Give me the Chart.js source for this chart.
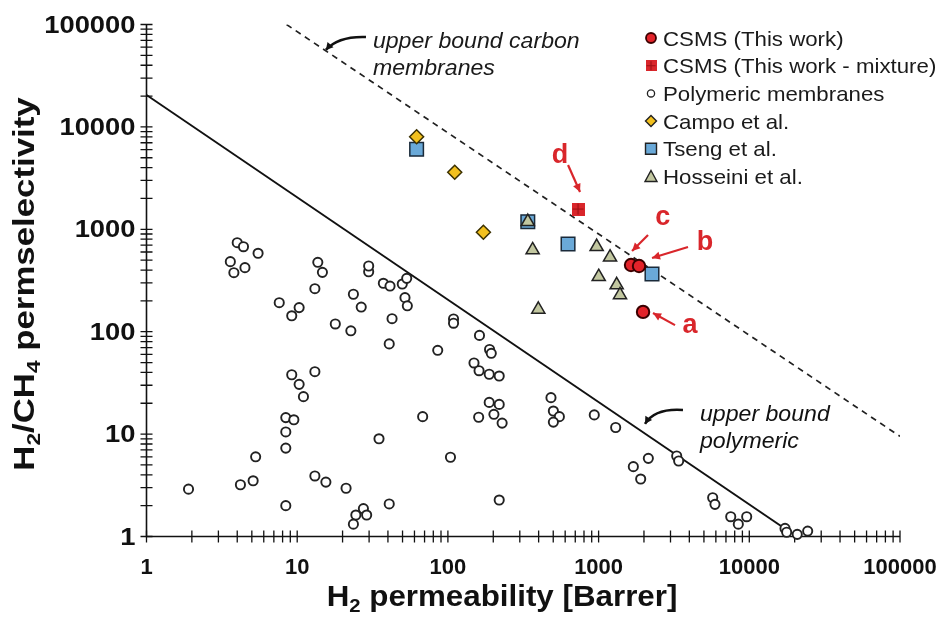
<!DOCTYPE html>
<html>
<head>
<meta charset="utf-8">
<title>H2/CH4 upper bound plot</title>
<script src="https://cdn.jsdelivr.net/npm/chart.js@4.4.0/dist/chart.umd.min.js"></script>
<style>
  html, body { margin: 0; padding: 0; background: #fff; }
  #wrap { width: 942px; height: 625px; position: relative; }
</style>
</head>
<body>
<div id="wrap"><canvas id="chart" width="942" height="625"></canvas></div>
<script>
// axis ticks (log decades) and their labels
const tickValues = [1, 10, 100, 1000, 10000, 100000];
const tickLabels = ['1', '10', '100', '1000', '10000', '100000'];
const minorSteps = [2, 3, 4, 5, 6, 7, 8, 9];

// Polymeric membranes
const polyX = [4.0, 4.4, 5.5, 3.6, 3.8, 4.5, 13.7, 14.7, 13.1, 7.6, 10.3, 9.2, 17.9,
  9.2, 13.1, 10.3, 11.0, 8.4, 9.5, 8.4, 8.4, 5.3, 1.9, 4.2, 5.1, 13.1, 15.5, 8.4,
  29.8, 29.8, 37.3, 41.3, 49.8, 53.3, 23.6, 51.9, 53.8, 26.6, 22.7, 42.6, 40.8,
  109, 109, 162, 189, 194, 85.6, 149, 161, 188, 219, 188, 219, 202, 68, 160,
  34.9, 21.1, 104, 229, 219, 27.5, 24.5, 28.9, 23.6, 40.8,
  483, 501, 549, 501, 936, 1298, 1700, 2138, 1902, 3298, 3399, 5715, 5918,
  7530, 8453, 9610, 17260, 17700, 20800, 24400];
const polyY = [740, 676, 583, 483, 377, 422, 476, 380, 263, 192, 172, 143, 119,
  38, 40.7, 30.6, 23.2, 14.5, 13.8, 10.5, 7.3, 6.0, 2.9, 3.2, 3.5, 3.9, 3.4, 2.0,
  385, 438, 297, 279, 292, 332, 232, 215, 179, 174, 102, 134, 76,
  133, 121, 92, 67, 61.5, 65.8, 49.5, 41.6, 38.4, 36.9, 20.4, 19.5, 15.6, 14.8, 14.6,
  9.0, 2.96, 5.94, 12.8, 2.27, 1.87, 1.62, 1.62, 1.32, 2.08,
  22.7, 16.8, 14.8, 13.1, 15.4, 11.6, 4.81, 5.80, 3.64, 6.11, 5.46, 2.39, 2.06,
  1.56, 1.32, 1.56, 1.20, 1.10, 1.05, 1.13];

// CSMS (this work) and literature carbon membranes
const csmsX = [1641, 1854, 1972];
const csmsY = [448, 438, 156];
const mixX = [730];
const mixY = [1578];
const campoX = [62, 111, 172];
const campoY = [8020, 3604, 935];
const tsengX = [62, 339, 627, 2261];
const tsengY = [6040, 1186, 718, 366];
const hossX = [339, 365, 398, 971, 1191, 1002, 1318, 1387];
const hossY = [1186, 628, 165, 676, 533, 344, 286, 228];

// upper bound lines
const boundPolyX = [1, 16700];
const boundPolyY = [20500, 1.23];
const boundCarbX = [8.5, 100000];
const boundCarbY = [100000, 9.5];

const legendLabels = ['CSMS (This work)', 'CSMS (This work - mixture)', 'Polymeric membranes',
  'Campo et al.', 'Tseng et al.', 'Hosseini et al.'];

// red sample labels a-d, with arrows (data coordinates)
const sampleLabels = ['a', 'b', 'c', 'd'];
const sampleTextX = [4042, 5082, 2663, 555];
const sampleTextY = [97, 628, 1102, 4440];
const sampleFromX = [3214, 3919, 2128, 627];
const sampleFromY = [116, 672, 880, 4246];
const sampleToX = [2296, 2261, 1667, 753];
const sampleToY = [152, 525, 614, 2313];

// upper bound captions with curved arrows (data coordinates)
const boundCaptions = [['upper bound carbon', 'membranes'], ['upper bound', 'polymeric']];
const captionX = [31.8, 4710];
const captionY = [58900, 13.4];
const curveStartX = [28.6, 3631];
const curveStartY = [75500, 17.2];
const curveCtrlX = [18.7, 2367];
const curveCtrlY = [77200, 18.0];
const curveEndX = [15.5, 2032];
const curveEndY = [56400, 12.6];

const FONT = '"Liberation Sans", Arial, sans-serif';
const RED = '#d9262b';

const pts = (xs, ys) => xs.map((x, i) => ({ x: x, y: ys[i] }));

const axisTicks = [];
tickValues.forEach((v, i) => {
  axisTicks.push(v);
  if (i < tickValues.length - 1) minorSteps.forEach(m => axisTicks.push(v * m));
});

function crossSquare(size) {
  const c = document.createElement('canvas');
  c.width = size; c.height = size;
  const g = c.getContext('2d');
  g.fillStyle = RED;
  g.fillRect(0, 0, size, size);
  g.strokeStyle = '#9e1014';
  g.lineWidth = 1.2;
  g.beginPath();
  g.moveTo(size / 2, 1); g.lineTo(size / 2, size - 1);
  g.moveTo(1, size / 2); g.lineTo(size - 1, size / 2);
  g.stroke();
  return c;
}

// text with optional subscripts and horizontal stretch
function drawRich(ctx, parts, x, y, size, font, align, sx) {
  ctx.save();
  ctx.textBaseline = 'alphabetic';
  ctx.textAlign = 'left';
  let w = 0;
  parts.forEach(p => {
    ctx.font = font.replace('SIZE', (p[1] ? size * 0.65 : size) + 'px');
    w += ctx.measureText(p[0]).width;
  });
  w *= sx;
  let left = align === 'center' ? x - w / 2 : align === 'right' ? x - w : x;
  ctx.translate(left, y);
  ctx.scale(sx, 1);
  let cx = 0;
  parts.forEach(p => {
    ctx.font = font.replace('SIZE', (p[1] ? size * 0.65 : size) + 'px');
    ctx.fillText(p[0], cx, p[1] ? size * 0.22 : 0);
    cx += ctx.measureText(p[0]).width;
  });
  ctx.restore();
}

function arrowHead(ctx, fx, fy, tx, ty, len, wid) {
  const a = Math.atan2(ty - fy, tx - fx);
  ctx.beginPath();
  ctx.moveTo(tx, ty);
  ctx.lineTo(tx - len * Math.cos(a) + wid * Math.sin(a), ty - len * Math.sin(a) - wid * Math.cos(a));
  ctx.lineTo(tx - len * Math.cos(a) - wid * Math.sin(a), ty - len * Math.sin(a) + wid * Math.cos(a));
  ctx.closePath();
  ctx.fill();
}

function legendMarker(ctx, i, x, y) {
  ctx.save();
  ctx.lineWidth = 1.4;
  ctx.strokeStyle = '#222';
  ctx.beginPath();
  if (i === 0) {
    ctx.fillStyle = '#e3232a'; ctx.strokeStyle = '#3b0000'; ctx.lineWidth = 1.8;
    ctx.arc(x, y, 5, 0, Math.PI * 2); ctx.fill(); ctx.stroke();
  } else if (i === 1) {
    ctx.drawImage(crossSquare(11), x - 5.5, y - 5.5);
  } else if (i === 2) {
    ctx.fillStyle = '#fff'; ctx.lineWidth = 1.3;
    ctx.arc(x, y, 3.6, 0, Math.PI * 2); ctx.fill(); ctx.stroke();
  } else if (i === 3) {
    ctx.fillStyle = '#f2c01e';
    ctx.moveTo(x, y - 5.5); ctx.lineTo(x + 5.5, y); ctx.lineTo(x, y + 5.5); ctx.lineTo(x - 5.5, y);
    ctx.closePath(); ctx.fill(); ctx.stroke();
  } else if (i === 4) {
    ctx.fillStyle = '#6aa9d8';
    ctx.rect(x - 5.5, y - 5.5, 11, 11); ctx.fill(); ctx.stroke();
  } else {
    ctx.fillStyle = '#c2c7a0';
    ctx.moveTo(x, y - 6); ctx.lineTo(x + 6, y + 5); ctx.lineTo(x - 6, y + 5);
    ctx.closePath(); ctx.fill(); ctx.stroke();
  }
  ctx.restore();
}

const decor = {
  id: 'decor',
  beforeDatasetsDraw(chart) {
    const { ctx, chartArea: a, scales: { x, y } } = chart;
    ctx.save();
    ctx.strokeStyle = '#111';
    ctx.lineWidth = 1.6;
    ctx.beginPath();
    ctx.moveTo(a.left, a.top);
    ctx.lineTo(a.left, a.bottom);
    ctx.lineTo(a.right, a.bottom);
    ctx.stroke();
    ctx.lineWidth = 1.3;
    ctx.beginPath();
    axisTicks.forEach(v => {
      const px = x.getPixelForValue(v);
      ctx.moveTo(px, a.bottom - 6); ctx.lineTo(px, a.bottom + 6);
      const py = y.getPixelForValue(v);
      ctx.moveTo(a.left - 6, py); ctx.lineTo(a.left + 6, py);
    });
    ctx.stroke();
    ctx.restore();
  },
  afterDatasetsDraw(chart) {
    const { ctx, chartArea: a, scales: { x, y } } = chart;
    const X = v => x.getPixelForValue(v);
    const Y = v => y.getPixelForValue(v);
    ctx.save();
    ctx.fillStyle = '#111';

    // tick labels
    tickValues.forEach((v, i) => {
      drawRich(ctx, [[tickLabels[i], false]], X(v), a.bottom + 37, 22, 'bold SIZE ' + FONT, 'center', 1);
      drawRich(ctx, [[tickLabels[i], false]], a.left - 11, Y(v) + 8, 24, 'bold SIZE ' + FONT, 'right', 1.14);
    });

    // axis titles
    drawRich(ctx, [['H', false], ['2', true], [' permeability [Barrer]', false]],
      502, 606, 29, 'bold SIZE ' + FONT, 'center', 1.08);
    ctx.save();
    ctx.translate(34, 284);
    ctx.rotate(-Math.PI / 2);
    drawRich(ctx, [['H', false], ['2', true], ['/CH', false], ['4', true], [' permselectivity', false]],
      0, 0, 29, 'bold SIZE ' + FONT, 'center', 1.2);
    ctx.restore();

    // upper bound captions and curved arrows
    ctx.fillStyle = '#1a1a1a';
    ctx.strokeStyle = '#111';
    boundCaptions.forEach((lines, i) => {
      lines.forEach((t, k) => {
        drawRich(ctx, [[t, false]], X(captionX[i]), Y(captionY[i]) + k * 27, 22, 'italic SIZE ' + FONT, 'left', 1.05);
      });
      const sx = X(curveStartX[i]), sy = Y(curveStartY[i]);
      const cx = X(curveCtrlX[i]), cy = Y(curveCtrlY[i]);
      const ex = X(curveEndX[i]), ey = Y(curveEndY[i]);
      ctx.lineWidth = 2.6;
      ctx.beginPath();
      ctx.moveTo(sx, sy);
      ctx.quadraticCurveTo(cx, cy, ex, ey);
      ctx.stroke();
      ctx.fillStyle = '#111';
      arrowHead(ctx, cx, cy, ex, ey, 7, 4);
    });

    // red sample labels
    ctx.fillStyle = RED;
    ctx.strokeStyle = RED;
    sampleLabels.forEach((t, i) => {
      drawRich(ctx, [[t, false]], X(sampleTextX[i]), Y(sampleTextY[i]), 27, 'bold SIZE ' + FONT, 'center', 1);
      const fx = X(sampleFromX[i]), fy = Y(sampleFromY[i]);
      const tx = X(sampleToX[i]), ty = Y(sampleToY[i]);
      ctx.lineWidth = 2.2;
      ctx.beginPath();
      ctx.moveTo(fx, fy);
      ctx.lineTo(tx, ty);
      ctx.stroke();
      arrowHead(ctx, fx, fy, tx, ty, 8, 4);
    });

    // legend
    ctx.fillStyle = '#1a1a1a';
    legendLabels.forEach((t, i) => {
      const ly = 38 + i * 27.7;
      legendMarker(ctx, i, 651, ly);
      drawRich(ctx, [[t, false]], 663, ly + 7.5, 21, 'SIZE ' + FONT, 'left', 1.06);
    });
    ctx.restore();
  }
};

const logAxis = {
  type: 'logarithmic',
  min: 1,
  max: 100000,
  grid: { display: false },
  border: { display: false },
  ticks: { display: false },
  afterBuildTicks: s => { s.ticks = axisTicks.map(v => ({ value: v })); }
};

new Chart(document.getElementById('chart'), {
  type: 'scatter',
  data: {
    datasets: [
      { label: legendLabels[0], data: pts(csmsX, csmsY), order: 0, clip: false,
        pointStyle: 'circle', pointRadius: 6.2, backgroundColor: '#e3232a', borderColor: '#3b0000', borderWidth: 2 },
      { label: legendLabels[1], data: pts(mixX, mixY), order: 1, clip: false,
        pointStyle: crossSquare(13), pointRadius: 6.5 },
      { label: legendLabels[5], data: pts(hossX, hossY), order: 2, clip: false,
        pointStyle: 'triangle', pointRadius: 7.6, backgroundColor: '#c2c7a0', borderColor: '#222', borderWidth: 1.5 },
      { label: legendLabels[3], data: pts(campoX, campoY), order: 3, clip: false,
        pointStyle: 'rectRot', pointRadius: 7, backgroundColor: '#f2c01e', borderColor: '#3a3000', borderWidth: 1.5 },
      { label: legendLabels[4], data: pts(tsengX, tsengY), order: 4, clip: false,
        pointStyle: 'rect', pointRadius: 9.6, backgroundColor: '#6aa9d8', borderColor: '#1a2a3a', borderWidth: 1.5 },
      { label: legendLabels[2], data: pts(polyX, polyY), order: 5, clip: false,
        pointStyle: 'circle', pointRadius: 4.6, backgroundColor: '#fff', borderColor: '#222', borderWidth: 1.9 },
      { label: 'upper bound polymeric', data: pts(boundPolyX, boundPolyY), order: 6,
        showLine: true, pointRadius: 0, borderColor: '#111', borderWidth: 2 },
      { label: 'upper bound carbon membranes', data: pts(boundCarbX, boundCarbY), order: 7,
        showLine: true, pointRadius: 0, borderColor: '#222', borderWidth: 1.7, borderDash: [6, 5] }
    ]
  },
  options: {
    responsive: false,
    animation: false,
    layout: { padding: { top: 24.5, right: 42, bottom: 0, left: 0 } },
    plugins: { legend: { display: false }, tooltip: { enabled: false } },
    scales: {
      x: Object.assign({}, logAxis, { afterFit: s => { s.height = 88.5; } }),
      y: Object.assign({}, logAxis, { afterFit: s => { s.width = 146.5; } })
    }
  },
  plugins: [decor]
});
</script>
</body>
</html>
